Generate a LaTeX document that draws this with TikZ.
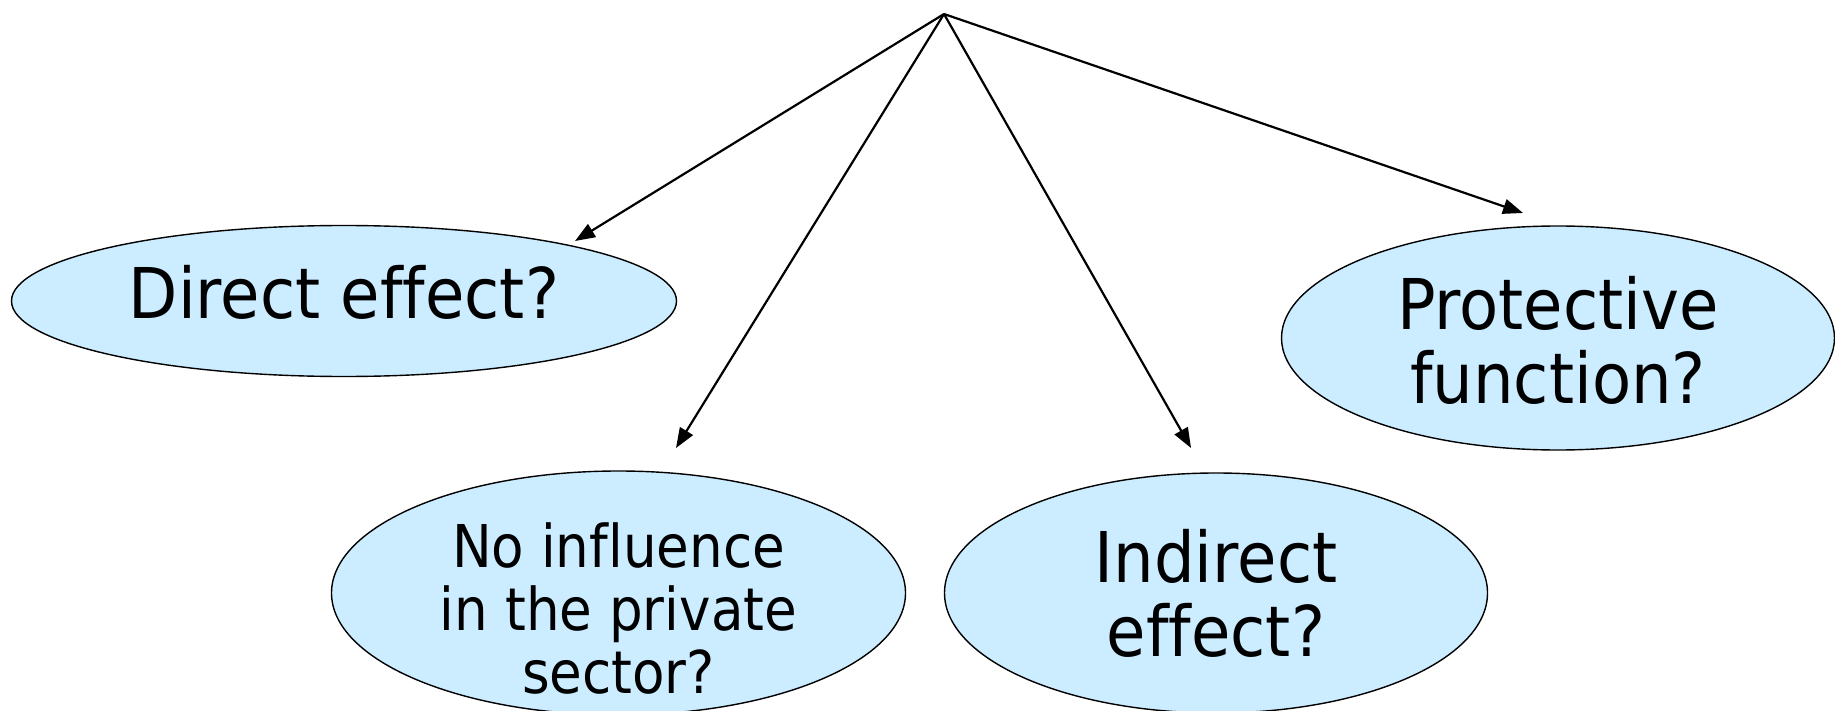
\documentclass[tikz,border=0pt]{standalone}
\usepackage{fontspec}
\setmainfont{DejaVu Sans}[Ligatures=NoCommon]
\newfontfamily\bigfont{DejaVu Sans}[FakeStretch=0.915,Ligatures=NoCommon]
\newfontfamily\smallfont{DejaVu Sans}[FakeStretch=0.9,Ligatures=NoCommon]
\usetikzlibrary{arrows.meta,shapes.geometric}
\definecolor{bubble}{RGB}{204,236,255}
\begin{document}
\begin{tikzpicture}[x=1pt,y=-1pt,
  bubblestyle/.style={ellipse,draw=black,line width=1.4pt,fill=bubble,inner sep=0pt},
  bigtext/.style={inner sep=0pt,align=center,font=\bigfont\fontsize{70}{74}\selectfont},
  smalltext/.style={inner sep=0pt,align=center,font=\smallfont\fontsize{59}{63}\selectfont},
  arrowline/.style={line width=2.2pt,-{Triangle[length=20pt,width=15pt]}}]
\useasboundingbox (0,0) rectangle (1835,711);
\begin{scope}
\clip (0,0) rectangle (1835,711);
\node[bubblestyle,minimum width=665pt,minimum height=151pt] (direct) at (344,301) {};
\node[bubblestyle,minimum width=574pt,minimum height=244pt] (noinf) at (618.5,593) {};
\node[bubblestyle,minimum width=543pt,minimum height=240pt] (indirect) at (1216,593) {};
\node[bubblestyle,minimum width=553pt,minimum height=224pt] (protect) at (1558,338) {};
\node[bigtext] (directlabel) at ([yshift=9pt]direct.center) {Direct effect?};
\node[smalltext] (noinflabel) at ([yshift=-15pt]noinf.center) {No influence\\in the private\\sector?};
\node[bigtext] (indirectlabel) at (indirect.center) {Indirect\\effect?};
\node[bigtext] (protectlabel) at ([yshift=-2pt]protect.center) {Protective\\function?};
\end{scope}
\coordinate (apex) at (944,14);
\coordinate (tdirect) at (575,241);
\coordinate (tnoinf) at (676,448);
\coordinate (tindirect) at (1191,448);
\coordinate (tprotect) at (1523,213);
\draw[arrowline] (apex) -- (tdirect);
\draw[arrowline] (apex) -- (tnoinf);
\draw[arrowline] (apex) -- (tindirect);
\draw[arrowline] (apex) -- (tprotect);
\end{tikzpicture}
\end{document}
